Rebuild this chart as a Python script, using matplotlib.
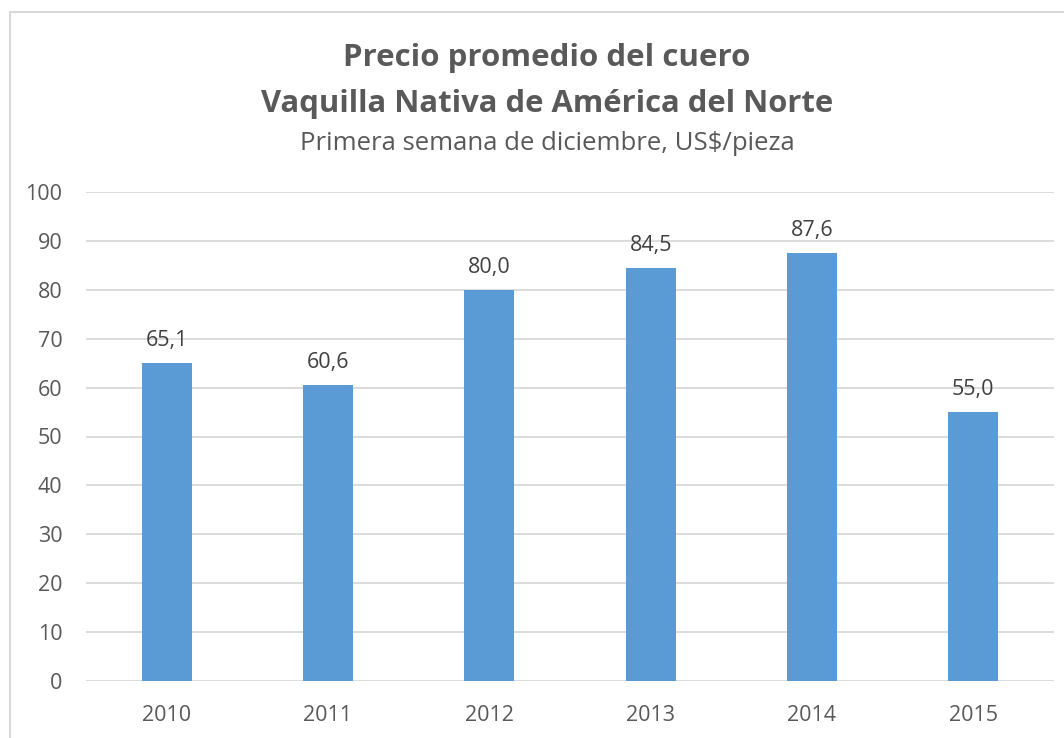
import matplotlib
matplotlib.use("Agg")
import matplotlib.pyplot as plt
from matplotlib.patches import Rectangle

years = ["2010", "2011", "2012", "2013", "2014", "2015"]
values = [65.1, 60.6, 80.0, 84.5, 87.6, 55.0]
labels = ["65,1", "60,6", "80,0", "84,5", "87,6", "55,0"]
yticks = [0, 10, 20, 30, 40, 50, 60, 70, 80, 90, 100]

plt.rcParams['font.family'] = ['Open Sans', 'DejaVu Sans']
txt = '#595959'

fig = plt.figure(figsize=(10.64, 7.38), dpi=100)
fig.patches.append(Rectangle((10/1064, -0.2), 1.2, 0.2 + (738-12)/738, transform=fig.transFigure,
                             fill=False, edgecolor='#D9D9D9', linewidth=1.5, clip_on=False))
ax = fig.add_axes([86/1064, 57/738, (1054-86)/1064, (681-192)/738])
x = list(range(len(years)))
ax.bar(x, values, width=0.31, color='#5B9BD5', zorder=3)
for xi, v, l in zip(x, values, labels):
    ax.annotate(l, (xi, v), xytext=(0, 8.5), textcoords='offset points', ha='center',
                va='bottom', fontsize=15.5, color='#404040')
ax.set_xlim(-0.5, len(years) - 0.5)
ax.set_ylim(0, 100)
ax.set_yticks(yticks)
ax.set_xticks(x)
ax.set_xticklabels(years)
ax.grid(axis='y', color='#D9D9D9', linewidth=1.3, zorder=0)
for s in ax.spines.values():
    s.set_visible(False)
ax.tick_params(axis='both', length=0, labelsize=15.5, labelcolor=txt)
ax.tick_params(axis='y', pad=17)
ax.tick_params(axis='x', pad=17)

cx = 547 / 1064
fig.text(cx, (738-58)/738, "Precio promedio del cuero", ha='center', va='center',
         fontsize=22.5, fontweight='bold', color=txt)
fig.text(cx, (738-104)/738, "Vaquilla Nativa de América del Norte", ha='center', va='center',
         fontsize=22.3, fontweight='bold', color=txt)
fig.text(cx, (738-143)/738, "Primera semana de diciembre, US$/pieza", ha='center', va='center',
         fontsize=18.5, color=txt)

fig.savefig("out.png", dpi=100)
